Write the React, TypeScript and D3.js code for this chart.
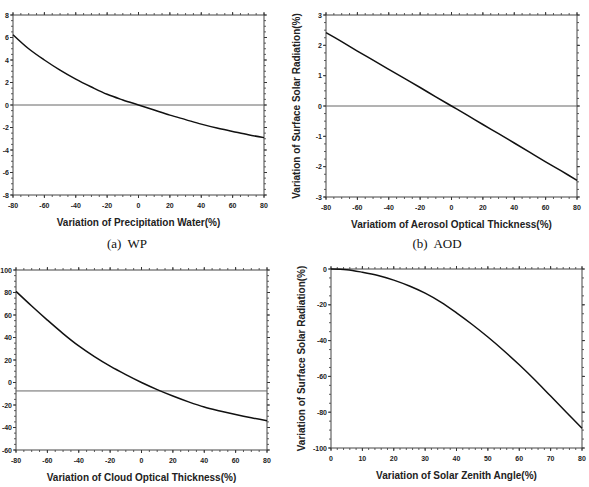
import React from "react";
import { scaleLinear, line, curveCatmullRom, range } from "d3";

// datos
const pctX = [-80, -70, -60, -50, -40, -30, -20, -10, 0, 10, 20, 30, 40, 50, 60, 70, 80];
const wpVals = [6.25, 5.0, 4.0, 3.1, 2.3, 1.6, 0.95, 0.45, 0, -0.45, -0.9, -1.3, -1.7, -2.05, -2.35, -2.65, -2.9];
const aodVals = [2.42, 2.12, 1.81, 1.51, 1.21, 0.91, 0.61, 0.3, 0, -0.3, -0.61, -0.91, -1.22, -1.53, -1.84, -2.14, -2.45];
const cotVals = [81, 68, 55.5, 43.5, 32.5, 23, 14.5, 7, 0, -6.3, -12, -17.2, -21.8, -25.3, -28.5, -31.4, -34];
const szaX = [0, 5, 10, 15, 20, 25, 30, 35, 40, 45, 50, 55, 60, 65, 70, 75, 80];
const szaVals = [0, -0.4, -1.8, -3.6, -6.2, -9.5, -13.5, -18.5, -24.5, -31, -38, -45.5, -53.5, -62, -71, -80, -89];

const yTitle = "Variation of Surface Solar Radiation(%)";

interface PanelProps {
  x0: number;
  x1: number;
  y0: number;
  y1: number;
  xs: number[];
  ys: number[];
  xDom: [number, number];
  yDom: [number, number];
  xStep: number;
  xMinor: number;
  yStep: number;
  yMinor: number;
  refY?: number;
  xLabel: string;
  yLabel?: string;
  caption?: string;
  captionX?: number;
}

const Panel: React.FC<PanelProps> = (p) => {
  const x = scaleLinear().domain(p.xDom).range([p.x0, p.x1]);
  const y = scaleLinear().domain(p.yDom).range([p.y1, p.y0]);
  const eps = 1e-6;
  const xMaj = range(p.xDom[0], p.xDom[1] + eps, p.xStep);
  const xMin = range(p.xDom[0], p.xDom[1] + eps, p.xMinor);
  const yMaj = range(p.yDom[0], p.yDom[1] + eps, p.yStep);
  const yMin = range(p.yDom[0], p.yDom[1] + eps, p.yMinor);
  const pts = p.xs.map((v, i) => [v, p.ys[i]] as [number, number]);
  const path = line<[number, number]>()
    .x((d) => x(d[0]))
    .y((d) => y(d[1]))
    .curve(curveCatmullRom.alpha(0.5))(pts);
  const tc = "#333";
  return (
    <g>
      {/* ticks menores */}
      {xMin.map((v, i) => (
        <g key={"xm" + i} stroke={tc} strokeWidth={0.8}>
          <line x1={x(v)} x2={x(v)} y1={p.y1} y2={p.y1 + 2} />
          <line x1={x(v)} x2={x(v)} y1={p.y0} y2={p.y0 - 2} />
        </g>
      ))}
      {yMin.map((v, i) => (
        <g key={"ym" + i} stroke={tc} strokeWidth={0.8}>
          <line x1={p.x0} x2={p.x0 - 2} y1={y(v)} y2={y(v)} />
          <line x1={p.x1} x2={p.x1 + 2} y1={y(v)} y2={y(v)} />
        </g>
      ))}
      {xMaj.map((v, i) => (
        <g key={"xM" + i}>
          <line x1={x(v)} x2={x(v)} y1={p.y1} y2={p.y1 + 3} stroke={tc} />
          <line x1={x(v)} x2={x(v)} y1={p.y0} y2={p.y0 - 3} stroke={tc} />
          <text x={x(v)} y={p.y1 + 12.5} textAnchor="middle" fontSize={7} fontWeight="bold" fill="#222">
            {v}
          </text>
        </g>
      ))}
      {yMaj.map((v, i) => (
        <g key={"yM" + i}>
          <line x1={p.x0} x2={p.x0 - 3} y1={y(v)} y2={y(v)} stroke={tc} />
          <line x1={p.x1} x2={p.x1 + 3} y1={y(v)} y2={y(v)} stroke={tc} />
          <text x={p.x0 - 4} y={y(v) + 2.5} textAnchor="end" fontSize={7} fontWeight="bold" fill="#222">
            {v}
          </text>
        </g>
      ))}
      <rect x={p.x0} y={p.y0} width={p.x1 - p.x0} height={p.y1 - p.y0} fill="none" stroke="#444" strokeWidth={1} />
      {p.refY !== undefined && (
        <line x1={p.x0} x2={p.x1} y1={y(p.refY)} y2={y(p.refY)} stroke="#666" strokeWidth={1} />
      )}
      <path d={path ?? ""} fill="none" stroke="#111" strokeWidth={1.5} />
      <text x={(p.x0 + p.x1) / 2} y={p.y1 + 31} textAnchor="middle" fontSize={10} fontWeight="bold" fill="#222">
        {p.xLabel}
      </text>
      {p.yLabel && (
        <text
          transform={`translate(${p.x0 - 26},${(p.y0 + p.y1) / 2}) rotate(-90)`}
          textAnchor="middle"
          fontSize={10}
          fontWeight="bold"
          fill="#222"
        >
          {p.yLabel}
        </text>
      )}
      {p.caption && (
        <text
          x={p.captionX}
          y={248}
          textAnchor="middle"
          fontSize={13}
          fontFamily="'Liberation Serif', serif"
          fill="#111"
          style={{ whiteSpace: "pre" }}
        >
          {p.caption}
        </text>
      )}
    </g>
  );
};

const App: React.FC = () => {
  return (
    <svg
      width={589}
      height={487}
      style={{ position: "absolute", left: 0, top: 0, background: "#fff" }}
      fontFamily="'Liberation Sans', Arial, sans-serif"
    >
      <rect width={589} height={487} fill="#fff" />
      <Panel
        x0={13} x1={264} y0={15} y1={195}
        xs={pctX} ys={wpVals}
        xDom={[-80, 80]} yDom={[-8, 8]}
        xStep={20} xMinor={5} yStep={2} yMinor={0.5}
        refY={0}
        xLabel="Variation of Precipitation Water(%)"
        caption="(a)  WP" captionX={127}
      />
      <Panel
        x0={326} x1={577} y0={15} y1={197}
        xs={pctX} ys={aodVals}
        xDom={[-80, 80]} yDom={[-3, 3]}
        xStep={20} xMinor={5} yStep={1} yMinor={0.25}
        refY={0}
        xLabel="Variatiom of Aerosol Optical Thickness(%)"
        yLabel={yTitle}
        caption="(b)  AOD" captionX={437}
      />
      <Panel
        x0={16} x1={267} y0={270} y1={450}
        xs={pctX} ys={cotVals}
        xDom={[-80, 80]} yDom={[-60, 100]}
        xStep={20} xMinor={5} yStep={20} yMinor={5}
        refY={-7.5}
        xLabel="Variation of Cloud Optical Thickness(%)"
      />
      <Panel
        x0={331} x1={582} y0={269} y1={448}
        xs={szaX} ys={szaVals}
        xDom={[0, 80]} yDom={[-100, 0]}
        xStep={10} xMinor={2} yStep={20} yMinor={5}
        xLabel="Variation of Solar Zenith Angle(%)"
        yLabel={yTitle}
      />
    </svg>
  );
};

export default App;
